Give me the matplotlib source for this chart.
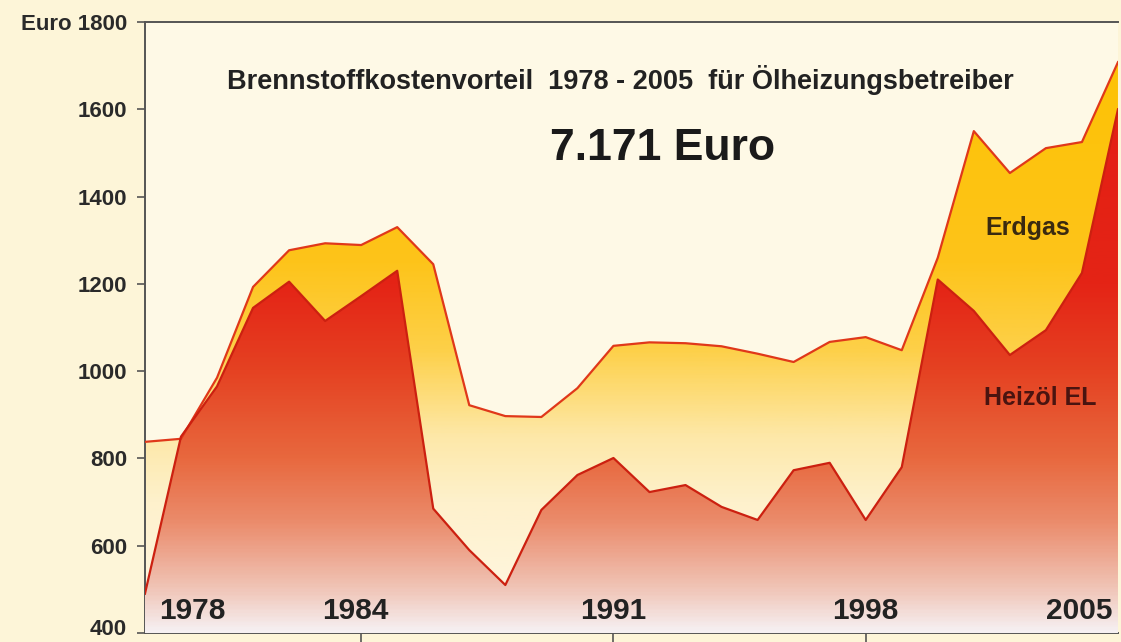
import numpy as np
import matplotlib
matplotlib.use("Agg")
import matplotlib.pyplot as plt
from matplotlib.colors import LinearSegmentedColormap
from matplotlib.transforms import ScaledTranslation

plt.rcParams['font.family'] = ['Liberation Sans', 'DejaVu Sans']

# Daten (Euro pro Jahr)
jahre = list(range(1978, 2006))
heizoel = [490, 850, 965, 1145, 1205, 1115, 1172, 1230, 685, 590, 510, 682, 762, 801,
           723, 739, 689, 659, 773, 790, 659, 780, 1210, 1138, 1037, 1094, 1225, 1600]
erdgas = [838, 845, 985, 1193, 1277, 1293, 1289, 1330, 1245, 922, 897, 895, 961, 1058,
          1066, 1064, 1057, 1040, 1021, 1067, 1078, 1048, 1260, 1550, 1454, 1511, 1525, 1708]
y_ticks = [400, 600, 800, 1000, 1200, 1400, 1600, 1800]
y_labels = ["400", "600", "800", "1000", "1200", "1400", "1600", "Euro 1800"]
jahr_labels = [1978, 1984, 1991, 1998, 2005]

YMIN, YMAX = 400, 1800

fig = plt.figure(figsize=(11.21, 6.42), dpi=100, facecolor='#fdf5d8')
ax = fig.add_axes([0.1293, 0.014, 0.868, 0.9517])
ax.set_facecolor('#fef9e6')
ax.set_xlim(1978, 2005)
ax.set_ylim(YMIN, YMAX)


def gradient_fill(x, y_top, stops, zorder):
    poly = ax.fill_between(x, YMIN, y_top, color='none', lw=0, zorder=zorder)
    vals = [s[0] for s in stops]
    lo, hi = min(vals), max(vals)
    cmap = LinearSegmentedColormap.from_list(
        'g', [((v - lo) / (hi - lo), c) for v, c in stops])
    grad = np.linspace(lo, hi, 400).reshape(-1, 1)
    im = ax.imshow(grad, extent=[1978, 2005, lo, hi], origin='lower',
                   aspect='auto', cmap=cmap, zorder=zorder)
    im.set_clip_path(poly.get_paths()[0], transform=ax.transData)


# Erdgas (gelb)
gradient_fill(jahre, erdgas, [(400, '#fef8e6'), (700, '#fef1cc'), (850, '#fde8a8'),
                              (950, '#fddc78'), (1050, '#fdd048'), (1250, '#fdc41a'),
                              (1800, '#fec200')], 2)
# Heizöl (rot)
gradient_fill(jahre, heizoel, [(400, '#f6f0f2'), (500, '#f0c4b6'), (650, '#eb8c6c'),
                               (800, '#e8683e'), (1000, '#e54222'), (1200, '#e42416'),
                               (1800, '#e41e12')], 3)

ax.plot(jahre, erdgas, color='#e0381a', lw=1.6, zorder=4)
ax.plot(jahre, heizoel, color='#cc2010', lw=1.6, zorder=5)

# Achsen
for s in ['left', 'top', 'bottom']:
    ax.spines[s].set_color('#555555')
    ax.spines[s].set_linewidth(1.4)
ax.spines['right'].set_visible(False)
ax.set_yticks(y_ticks)
ax.set_yticklabels(y_labels, fontsize=16, fontweight='bold', color='#2a2a2a')
ax.set_xticks([1984, 1991, 1998])
ax.set_xticklabels([])
ax.tick_params(axis='y', length=6, width=1.2, color='#555555', pad=7)
ax.tick_params(axis='x', length=8, width=1.2, color='#555555')
# unterstes Label etwas anheben, damit es nicht abgeschnitten wird
lab400 = ax.get_yticklabels()[0]
lab400.set_transform(lab400.get_transform() + ScaledTranslation(0, 4 / 72, fig.dpi_scale_trans))

# Jahreszahlen im Diagramm
for j in jahr_labels:
    ha = 'center'
    xp = j
    if j == 1978:
        ha = 'left'
        xp = 1978.4
    elif j == 1984:
        xp = 1983.83
    elif j == 2005:
        ha = 'right'
        xp = 2004.85
    ax.text(xp, 450, str(j), ha=ha, va='center', fontsize=21.5, fontweight='bold',
            color='#222222', zorder=6)

ax.text(1991.18, 1667, "Brennstoffkostenvorteil  1978 - 2005  für Ölheizungsbetreiber",
        ha='center', va='center', fontsize=19.5, fontweight='bold', color='#222222', zorder=6)
ax.text(1992.35, 1511, "7.171 Euro", ha='center', va='center', fontsize=32,
        fontweight='bold', color='#1a1a1a', zorder=6)
ax.text(2002.5, 1328, "Erdgas", ha='center', va='center', fontsize=18,
        fontweight='bold', color='#3a2a10', zorder=6)
ax.text(2002.83, 938, "Heizöl EL", ha='center', va='center', fontsize=18,
        fontweight='bold', color='#4a1410', zorder=6)

fig.savefig('out.png', dpi=100, facecolor=fig.get_facecolor())
